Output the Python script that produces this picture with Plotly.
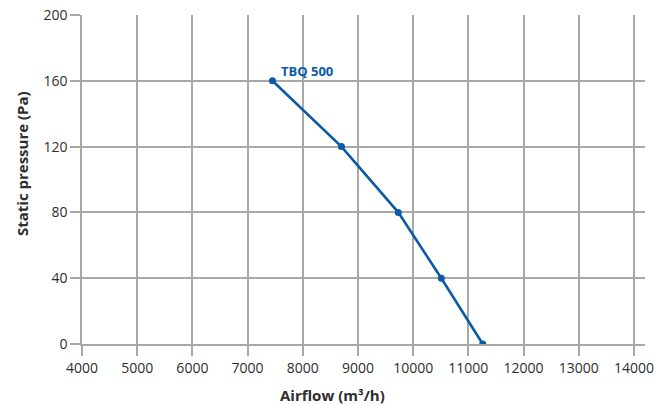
import plotly.graph_objects as go

airflow = [7450, 8700, 9730, 10510, 11260]
pressure = [160, 120, 80, 40, 0]
series_name = "TBQ 500"
x_ticks = [4000, 5000, 6000, 7000, 8000, 9000, 10000, 11000, 12000, 13000, 14000]
y_ticks = [0, 40, 80, 120, 160, 200]
x_title = "Airflow (m³/h)"
y_title = "Static pressure (Pa)"

BLUE = "#0a5aa5"
GRID = "#a8a8a8"
FONT = "Open Sans"
TXT = "#2e2e2e"

fig = go.Figure()
fig.add_trace(go.Scatter(
    x=airflow, y=pressure, mode="lines+markers",
    line=dict(color=BLUE, width=2.6),
    marker=dict(color=BLUE, size=7),
    showlegend=False,
))
fig.add_annotation(
    x=airflow[0], y=pressure[0], text="<b>%s</b>" % series_name,
    showarrow=False, xanchor="left", yanchor="bottom",
    xshift=7, yshift=-1,
    font=dict(family=FONT, size=13, color=BLUE),
)
# axis titles as annotations for exact placement
fig.add_annotation(
    xref="paper", yref="paper", x=0.4458, y=0, yshift=-51,
    text="<b>%s</b>" % x_title, showarrow=False,
    xanchor="center", yanchor="middle",
    font=dict(family=FONT, size=15, color=TXT),
)
fig.add_annotation(
    xref="paper", yref="paper", x=0, y=0.547, xshift=-60,
    text="<b>%s</b>" % y_title, showarrow=False, textangle=-90,
    xanchor="center", yanchor="middle",
    font=dict(family=FONT, size=15, color=TXT),
)
fig.update_layout(
    width=667, height=405,
    margin=dict(l=82, r=22, t=15, b=61, autoexpand=False),
    plot_bgcolor="white", paper_bgcolor="white",
    font=dict(family=FONT, size=14, color=TXT),
)
fig.update_xaxes(
    range=[4000, 14200], tickvals=x_ticks, ticktext=[str(v) for v in x_ticks],
    automargin=False, ticklabeloverflow="allow",
    showgrid=True, gridcolor=GRID, gridwidth=1.5,
    showline=True, linecolor=GRID, linewidth=1.5,
    ticks="outside", ticklen=10, tickcolor=GRID, tickwidth=1.5,
    zeroline=False,
    tickfont=dict(family=FONT, size=14, color=TXT),
)
fig.update_yaxes(
    range=[0, 200], tickvals=y_ticks, ticktext=[str(v) for v in y_ticks],
    automargin=False, ticklabeloverflow="allow",
    showgrid=True, gridcolor=GRID, gridwidth=1.5,
    showline=True, linecolor=GRID, linewidth=1.5,
    ticks="outside", ticklen=10, tickcolor=GRID, tickwidth=1.5,
    zeroline=False,
    tickfont=dict(family=FONT, size=14, color=TXT),
)
# remove the browser's default 8px body margin so the figure fills the window
fig.write_html("out.html", config={"displayModeBar": False},
               post_script="document.body.style.margin='0';")
